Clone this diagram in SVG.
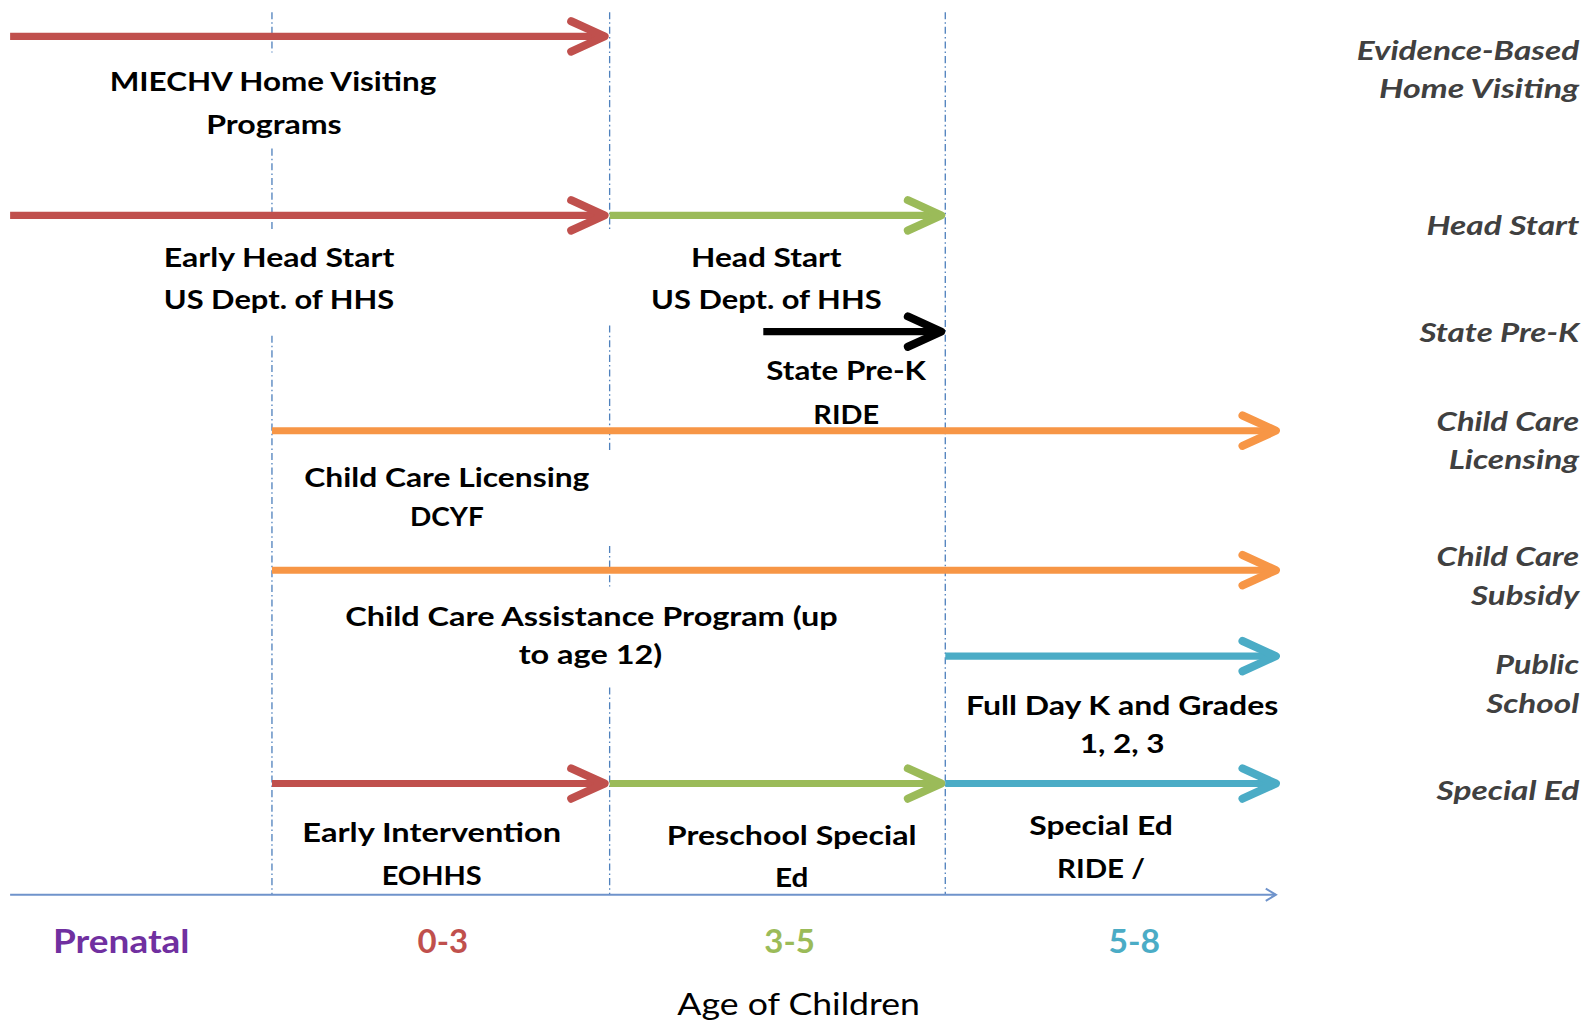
<svg xmlns="http://www.w3.org/2000/svg" width="1585" height="1021" viewBox="0 0 1585 1021">
<style>
.lbl{font-family:Lato,"Open Sans","Liberation Sans",sans-serif;font-weight:bold;font-size:27px;fill:#000;text-anchor:middle}
.side{font-family:Lato,"Open Sans","Liberation Sans",sans-serif;font-weight:bold;font-style:italic;font-size:26px;fill:#404040;text-anchor:end}
.age{font-family:Lato,"Open Sans","Liberation Sans",sans-serif;font-weight:bold;font-size:32px;text-anchor:middle}
.axt{font-family:Lato,"Open Sans","Liberation Sans",sans-serif;font-size:31px;fill:#000;text-anchor:middle}
.grid{stroke:#4F81BD;stroke-width:1.3;stroke-dasharray:7 3 1.5 3;fill:none}
.arr{stroke-width:7;fill:none}
.red{stroke:#C0504D}.grn{stroke:#9BBB59}.org{stroke:#F79646}.blu{stroke:#4BACC6}.blk{stroke:#000}
</style>
<defs>
<marker id="mr" markerUnits="userSpaceOnUse" orient="auto" refX="0" refY="0" markerWidth="60" markerHeight="60" viewBox="-40 -30 60 60" overflow="visible"><path d="M-33,-15 L0,0 L-33,15" fill="none" stroke="#C0504D" stroke-width="8" stroke-linecap="round" stroke-linejoin="round"/></marker>
<marker id="mg" markerUnits="userSpaceOnUse" orient="auto" refX="0" refY="0" markerWidth="60" markerHeight="60" viewBox="-40 -30 60 60" overflow="visible"><path d="M-33,-15 L0,0 L-33,15" fill="none" stroke="#9BBB59" stroke-width="8" stroke-linecap="round" stroke-linejoin="round"/></marker>
<marker id="mo" markerUnits="userSpaceOnUse" orient="auto" refX="0" refY="0" markerWidth="60" markerHeight="60" viewBox="-40 -30 60 60" overflow="visible"><path d="M-33,-15 L0,0 L-33,15" fill="none" stroke="#F79646" stroke-width="8" stroke-linecap="round" stroke-linejoin="round"/></marker>
<marker id="mb" markerUnits="userSpaceOnUse" orient="auto" refX="0" refY="0" markerWidth="60" markerHeight="60" viewBox="-40 -30 60 60" overflow="visible"><path d="M-33,-15 L0,0 L-33,15" fill="none" stroke="#4BACC6" stroke-width="8" stroke-linecap="round" stroke-linejoin="round"/></marker>
<marker id="mk" markerUnits="userSpaceOnUse" orient="auto" refX="0" refY="0" markerWidth="60" markerHeight="60" viewBox="-40 -30 60 60" overflow="visible"><path d="M-33,-15 L0,0 L-33,15" fill="none" stroke="#000" stroke-width="8" stroke-linecap="round" stroke-linejoin="round"/></marker>
<marker id="max" markerUnits="userSpaceOnUse" orient="auto" refX="0" refY="0" markerWidth="20" markerHeight="20" viewBox="-12 -8 20 16" overflow="visible"><path d="M-10,-6 L0,0 L-10,6" fill="none" stroke="#6F93CB" stroke-width="2"/></marker>
</defs>

<g id="diagram" transform="scale(1.011)">
<g id="gridlines">
<path class="grid" d="M269,12V52 M269,147V228 M269,332V885"/>
<path class="grid" d="M603,12V228 M603,322V448 M603,540V580 M603,680V885"/>
<path class="grid" d="M935,12V885"/>
</g>

<g id="connectors">
<line class="arr red" x1="10" y1="36" x2="598" y2="36" marker-end="url(#mr)"/>
<line class="arr red" x1="10" y1="213" x2="598" y2="213" marker-end="url(#mr)"/>
<line class="arr grn" x1="603" y1="213" x2="931" y2="213" marker-end="url(#mg)"/>
<line class="arr blk" x1="755" y1="328" x2="931" y2="328" marker-end="url(#mk)"/>
<line class="arr org" x1="269" y1="426" x2="1262" y2="426" marker-end="url(#mo)"/>
<line class="arr org" x1="269" y1="564" x2="1262" y2="564" marker-end="url(#mo)"/>
<line class="arr blu" x1="935" y1="649" x2="1262" y2="649" marker-end="url(#mb)"/>
<line class="arr red" x1="269" y1="775" x2="598" y2="775" marker-end="url(#mr)"/>
<line class="arr grn" x1="603" y1="775" x2="931" y2="775" marker-end="url(#mg)"/>
<line class="arr blu" x1="935" y1="775" x2="1262" y2="775" marker-end="url(#mb)"/>
<line x1="10" y1="885" x2="1262" y2="885" stroke="#6F93CB" stroke-width="2" marker-end="url(#max)"/>
</g>

<g id="miechv"><text class="lbl" x="270" y="90" textLength="323" lengthAdjust="spacingAndGlyphs">MIECHV Home Visiting</text><text class="lbl" x="271" y="133" textLength="134" lengthAdjust="spacingAndGlyphs">Programs</text></g>
<g id="early-head-start"><text class="lbl" x="276" y="264" textLength="228" lengthAdjust="spacingAndGlyphs">Early Head Start</text><text class="lbl" x="276" y="306" textLength="228" lengthAdjust="spacingAndGlyphs">US Dept. of HHS</text></g>
<g id="head-start"><text class="lbl" x="758" y="264" textLength="149" lengthAdjust="spacingAndGlyphs">Head Start</text><text class="lbl" x="758" y="306" textLength="228" lengthAdjust="spacingAndGlyphs">US Dept. of HHS</text></g>
<g id="state-prek"><text class="lbl" x="837" y="376" textLength="158" lengthAdjust="spacingAndGlyphs">State Pre-K</text><text class="lbl" x="837" y="419" textLength="65" lengthAdjust="spacingAndGlyphs">RIDE</text></g>
<g id="cc-licensing"><text class="lbl" x="442" y="482" textLength="282" lengthAdjust="spacingAndGlyphs">Child Care Licensing</text><text class="lbl" x="442" y="520" textLength="73" lengthAdjust="spacingAndGlyphs">DCYF</text></g>
<g id="ccap"><text class="lbl" x="585" y="619" textLength="487" lengthAdjust="spacingAndGlyphs">Child Care Assistance Program (up</text><text class="lbl" x="584" y="657" textLength="142" lengthAdjust="spacingAndGlyphs">to age 12)</text></g>
<g id="full-day-k"><text class="lbl" x="1110" y="707" textLength="309" lengthAdjust="spacingAndGlyphs">Full Day K and Grades</text><text class="lbl" x="1110" y="745" textLength="84" lengthAdjust="spacingAndGlyphs">1, 2, 3</text></g>
<g id="early-intervention"><text class="lbl" x="427" y="833" textLength="256" lengthAdjust="spacingAndGlyphs">Early Intervention</text><text class="lbl" x="427" y="875" textLength="99" lengthAdjust="spacingAndGlyphs">EOHHS</text></g>
<g id="preschool-sped"><text class="lbl" x="783" y="836" textLength="247" lengthAdjust="spacingAndGlyphs">Preschool Special</text><text class="lbl" x="783" y="877" textLength="33" lengthAdjust="spacingAndGlyphs">Ed</text></g>
<g id="special-ed"><text class="lbl" x="1089" y="826" textLength="142" lengthAdjust="spacingAndGlyphs">Special Ed</text><text class="lbl" x="1089" y="868" textLength="87" lengthAdjust="spacingAndGlyphs">RIDE /</text></g>

<g id="side-labels">
<text class="side" x="1562" y="59" textLength="220" lengthAdjust="spacingAndGlyphs">Evidence-Based</text>
<text class="side" x="1562" y="97" textLength="198" lengthAdjust="spacingAndGlyphs">Home Visiting</text>
<text class="side" x="1562" y="232" textLength="151" lengthAdjust="spacingAndGlyphs">Head Start</text>
<text class="side" x="1562" y="338" textLength="158" lengthAdjust="spacingAndGlyphs">State Pre-K</text>
<text class="side" x="1562" y="426" textLength="141" lengthAdjust="spacingAndGlyphs">Child Care</text>
<text class="side" x="1562" y="464" textLength="129" lengthAdjust="spacingAndGlyphs">Licensing</text>
<text class="side" x="1562" y="560" textLength="141" lengthAdjust="spacingAndGlyphs">Child Care</text>
<text class="side" x="1562" y="598" textLength="107" lengthAdjust="spacingAndGlyphs">Subsidy</text>
<text class="side" x="1562" y="667" textLength="83" lengthAdjust="spacingAndGlyphs">Public</text>
<text class="side" x="1562" y="705" textLength="92" lengthAdjust="spacingAndGlyphs">School</text>
<text class="side" x="1562" y="791" textLength="141" lengthAdjust="spacingAndGlyphs">Special Ed</text>
</g>

<g id="age-axis">
<text class="age" x="120" y="943" fill="#7030A0" textLength="135" lengthAdjust="spacingAndGlyphs">Prenatal</text>
<text class="age" x="438" y="943" fill="#C0504D" textLength="50" lengthAdjust="spacingAndGlyphs">0-3</text>
<text class="age" x="781" y="943" fill="#9BBB59" textLength="50" lengthAdjust="spacingAndGlyphs">3-5</text>
<text class="age" x="1122" y="943" fill="#4BACC6" textLength="51" lengthAdjust="spacingAndGlyphs">5-8</text>
<text class="axt" x="790" y="1004" textLength="240" lengthAdjust="spacingAndGlyphs">Age of Children</text>
</g>
</g>
</svg>
